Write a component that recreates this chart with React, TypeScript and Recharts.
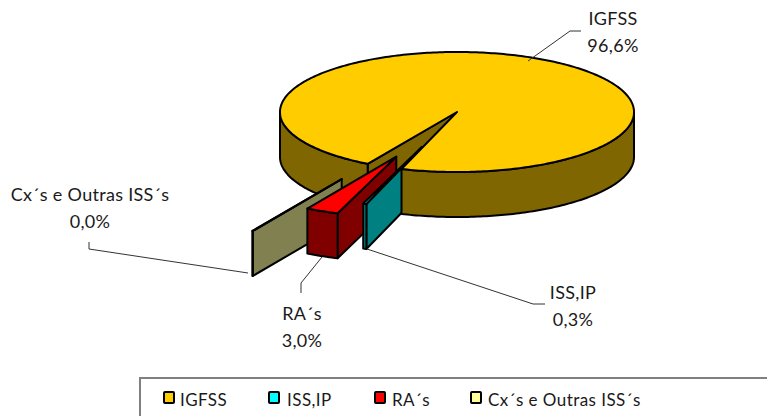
import React from 'react';
import { PieChart, Pie, Legend } from 'recharts';

const names = ['IGFSS', 'ISS,IP', 'RA´s', 'Cx´s e Outras ISS´s'];
const shares = [96.6, 0.3, 3.0, 0.04];

const topColors = ['#FFCC00', '#00FFFF', '#FF0000', '#FFFF99'];
const sideColors = ['#806600', '#008080', '#800000', '#808050'];

// how far each slice is pulled out, same units as the radius
const explode = [0, 109, 145, 229];

const CX = 457;
const CY = 112;
const RADIUS = 177;
const SQUASH = 0.339;
const DEPTH = 45;

const labelCentres = [[613, 25], [573, 299], [302, 320], [90, 201]];
const leaders = [
  '528,61 570,31 581,31',
  '367,249 533,304 545,304',
  '322,257 301,283 301,293',
  '248,273 89,249 89,242',
];
const legendSwatchX = [163, 268, 374, 470];
const legendTextX = [180, 287, 392, 488];

const tableData = names.map((name, i) => ({ name, value: shares[i] }));

const rad = (d: number) => (d * Math.PI) / 180;

const sliceOrigin = (i: number, a: number, b: number) => {
  const mid = rad((a + b) / 2);
  return [CX + explode[i] * Math.cos(mid), CY - explode[i] * Math.sin(mid) * SQUASH];
};

const arc = (ox: number, oy: number, from: number, to: number, dy = 0) => {
  const n = Math.max(1, Math.ceil(Math.abs(from - to)));
  const pts: string[] = [];
  for (let k = 0; k <= n; k++) {
    const t = rad(from + ((to - from) * k) / n);
    pts.push(`${ox + RADIUS * Math.cos(t)},${oy - RADIUS * Math.sin(t) * SQUASH + dy}`);
  }
  return pts;
};

// parts of the rim that face the viewer (lower half of the ellipse)
const frontArcs = (start: number, end: number) => {
  const out: [number, number][] = [];
  [[180, 360], [-180, 0]].forEach(([lo, hi]) => {
    const a = Math.min(start, hi);
    const b = Math.max(end, lo);
    if (a > b) out.push([a, b]);
  });
  return out;
};

const lineProps = { stroke: '#000', strokeWidth: 2, strokeLinejoin: 'round' as const };

// part: 'back' = inner wall and left rim, 'body' = right rim and top, 'all' = everything
const SliceFace = ({ props, part }: { props: any; part: string }) => {
  const i = names.indexOf(props.name);
  const start = props.startAngle;
  const end = props.endAngle;
  const [ox, oy] = sliceOrigin(i, start, end);
  const s = rad(start);
  const sx = ox + RADIUS * Math.cos(s);
  const sy = oy - RADIUS * Math.sin(s) * SQUASH;

  const rims = frontArcs(start, end).filter(([a]) => part === 'all' || (part === 'back' ? a > 0 : a <= 0));
  return (
    <g>
      {part !== 'body' && (
        <polygon
          points={`${ox},${oy} ${sx},${sy} ${sx},${sy + DEPTH} ${ox},${oy + DEPTH}`}
          fill={sideColors[i]}
          {...lineProps}
        />
      )}
      {rims.map(([a, b]) => (
        <polygon
          key={a}
          points={[...arc(ox, oy, a, b), ...arc(ox, oy, b, a, DEPTH)].join(' ')}
          fill={sideColors[i]}
          {...lineProps}
        />
      ))}
      {part !== 'back' && (
        <polygon points={[`${ox},${oy}`, ...arc(ox, oy, start, end)].join(' ')} fill={topColors[i]} {...lineProps} />
      )}
    </g>
  );
};

const only = (index: number, part: string) => (props: any) =>
  props.name === names[index] ? <SliceFace props={props} part={part} /> : <g />;

const fmt = (v: number) => `${v.toFixed(1).replace('.', ',')}%`;

const renderLabel = (props: any) => {
  const i = names.indexOf(props.name);
  const [x, y] = labelCentres[i];
  const textProps = { textAnchor: 'middle' as const, fontFamily: 'Lato', fontSize: 18, letterSpacing: 0.3, fill: '#1a1a1a' };
  return (
    <g>
      <polyline points={leaders[i]} fill="none" stroke="#333" strokeWidth={1} />
      <text x={x} y={y} {...textProps}>
        {props.name}
      </text>
      <text x={x} y={y + 27} {...textProps}>
        {fmt(props.value)}
      </text>
    </g>
  );
};

const renderLegend = () => (
  <div style={{ position: 'absolute', left: 139, top: 377, width: 700, height: 60, border: '2px solid #808080', boxSizing: 'border-box' }}>
    {names.map((name, i) => (
      <React.Fragment key={name}>
        <span
          style={{
            position: 'absolute',
            left: legendSwatchX[i] - 141,
            top: 12,
            width: 8,
            height: 9,
            background: topColors[i],
            border: '2px solid #000',
            borderRadius: 2,
          }}
        />
        <span
          style={{
            position: 'absolute',
            left: legendTextX[i] - 141,
            top: 10,
            fontFamily: 'Lato',
            fontSize: 17,
            letterSpacing: 0.45,
            color: '#1a1a1a',
            whiteSpace: 'nowrap',
          }}
        >
          {name}
        </span>
      </React.Fragment>
    ))}
  </div>
);

const layer = (shape: any, label?: any) => ({
  data: tableData,
  dataKey: 'value',
  nameKey: 'name',
  cx: CX,
  cy: CY,
  outerRadius: RADIUS,
  startAngle: 239.7,
  endAngle: -120.3,
  isAnimationActive: false,
  shape,
  label: label || false,
  labelLine: false,
  legendType: 'none' as const,
});

export default function App() {
  return (
    <div style={{ position: 'absolute', left: 0, top: 0, width: 767, height: 416, overflow: 'hidden', background: '#fff' }}>
      <PieChart width={767} height={416} margin={{ top: 0, right: 0, bottom: 0, left: 0 }}>
        {/* paint order matters: ISS,IP sits over RA's wall but under the big slice */}
        <Pie {...layer(only(0, 'back'))} />
        <Pie {...layer(only(3, 'all'))} />
        <Pie {...layer(only(2, 'all'))} />
        <Pie {...layer(only(1, 'all'))} />
        <Pie {...layer(only(0, 'body'), renderLabel)} />
        <Legend content={renderLegend} wrapperStyle={{ position: 'absolute', left: 0, top: 0, width: 767, height: 416 }} />
      </PieChart>
    </div>
  );
}
